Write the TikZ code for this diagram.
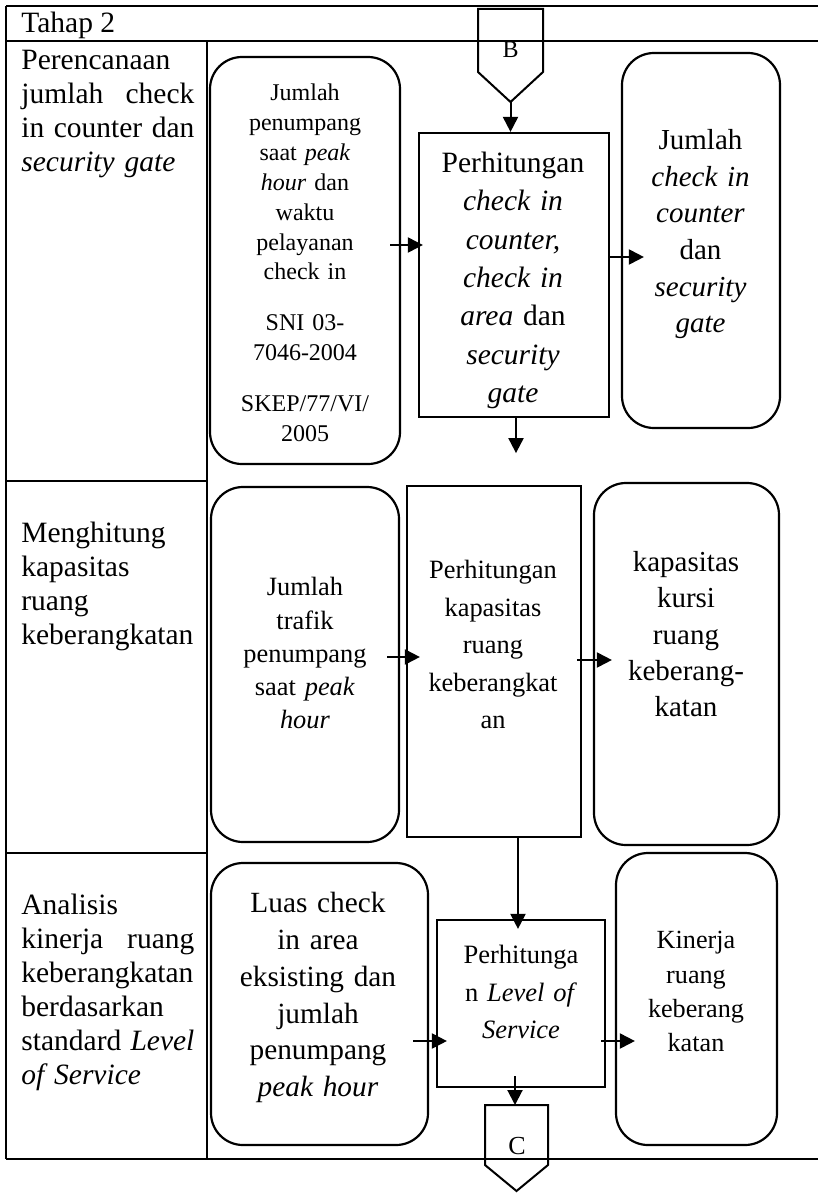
\documentclass[tikz,border=0pt]{standalone}
\usepackage{fontspec}
\setmainfont{Liberation Serif}
\usetikzlibrary{calc,fit,arrows.meta}
\newcommand\fsz[2]{\fontsize{#1}{#2}\selectfont}
\newcommand\jline[1]{\makebox[86.5pt][s]{#1}}
\begin{document}
\begin{tikzpicture}[x=0.5pt,y=-0.5pt,
  tline/.style={line width=1pt},
  rbox/.style={draw, line width=1.1pt, rounded corners=16pt, inner sep=0pt},
  sbox/.style={draw, line width=1.1pt, inner sep=0pt},
  arr/.style={line width=1pt, -{Triangle[length=7.5pt,width=7.5pt]}},
  txt/.style={inner sep=0pt, align=center, text width=85pt, anchor=base},
  ltxt/.style={inner sep=0pt, align=left, text width=86.5pt, anchor=base west, font=\fsz{14.75pt}{17pt}},
]
\useasboundingbox (0,0) rectangle (818,1193);

% table
\draw[tline] (6,6) -- (818,6);
\draw[tline] (6,41) -- (818,41);
\draw[tline] (6,1159) -- (818,1159);
\draw[tline] (6,6) -- (6,1159);
\draw[tline] (207,41) -- (207,1159);
\draw[tline] (6,481) -- (207,481);
\draw[tline] (6,853) -- (207,853);

% left column texts
\node[inner sep=0pt, anchor=base west, font=\fsz{14.75pt}{17pt}] (tahap) at (21,32.7) {Tahap 2};
\node[ltxt] (lc1) at (21,69.7) {Perencanaan\\ \jline{jumlah\hfill check}\\ \jline{in\hfill counter\hfill dan}\\ \textit{security gate}};
\node[ltxt] (lc2) at (21,542.7) {Menghitung\\ kapasitas\\ ruang\\ keberangkatan};
\node[ltxt] (lc3) at (21,914.7) {Analisis\\ \jline{kinerja\hfill ruang}\\ keberangkatan\\ berdasarkan\\ \jline{standard\hfill\textit{Level}}\\ \textit{of Service}};

% boxes
\node[rbox, fit={(210,57)(400,464)}] (b1) {};
\node[sbox, fit={(419,133)(609,417)}] (c1) {};
\node[rbox, fit={(622,53)(780,428)}] (r1) {};
\node[rbox, fit={(211,487)(399,842)}] (b2) {};
\node[sbox, fit={(407,486)(581,837)}] (c2) {};
\node[rbox, fit={(594,483)(779,845)}] (r2) {};
\node[rbox, fit={(211,863)(428,1145)}] (b3) {};
\node[sbox, fit={(437,920)(605,1087)}] (c3) {};
\node[rbox, fit={(616,853)(777,1145)}] (r3) {};

% box texts
\node[txt, font=\fsz{12pt}{14.9pt}] (t1) at (305,101) {Jumlah\\ penumpang\\ saat \textit{peak}\\ \textit{hour} dan\\ waktu\\ pelayanan\\ check in\\[10.5pt] SNI 03-\\ 7046-2004\\[10.5pt] SKEP/77/VI/\\ 2005};
\node[txt, font=\fsz{14.75pt}{19.15pt}] (tc1) at (513,172.7) {Perhitungan\\ \textit{check in}\\ \textit{counter,}\\ \textit{check in}\\ \textit{area} dan\\ \textit{security}\\ \textit{gate}};
\node[txt, font=\fsz{14.5pt}{18.3pt}] (tr1) at (700.5,149.6) {Jumlah\\ \textit{check in}\\ \textit{counter}\\ dan\\ \textit{security}\\ \textit{gate}};
\node[txt, font=\fsz{13.2pt}{16.65pt}] (t2) at (305,595.7) {Jumlah\\ trafik\\ penumpang\\ saat \textit{peak}\\ \textit{hour}};
\node[txt, font=\fsz{13.2pt}{18.75pt}] (tc2) at (493,578.7) {Perhitungan\\ kapasitas\\ ruang\\ keberangkat\\ an};
\node[txt, font=\fsz{14.5pt}{18.15pt}] (tr2) at (686,571.6) {kapasitas\\ kursi\\ ruang\\ keberang-\\ katan};
\node[txt, font=\fsz{14.65pt}{18.4pt}] (t3) at (318,912.7) {Luas check\\ in area\\ eksisting dan\\ jumlah\\ penumpang\\ \textit{peak hour}};
\node[txt, font=\fsz{13.25pt}{18.75pt}] (tc3) at (521,963.7) {Perhitunga\\ n \textit{Level of}\\ \textit{Service}};
\node[txt, font=\fsz{13.1pt}{17.2pt}] (tr3) at (696,948.6) {Kinerja\\ ruang\\ keberang\\ katan};

% off-page connectors
\draw[tline] (478,9) -- (543,9) -- (543,72) -- (510.5,102) -- (478,72) -- cycle;
\coordinate (Btip) at (510.5,102);
\node[inner sep=0pt, anchor=base, font=\fsz{12pt}{14pt}] (Blab) at (510.5,58) {B};
\draw[tline] (485,1105) -- (548,1105) -- (548,1165) -- (516.5,1191) -- (485,1165) -- cycle;
\coordinate (Ctop) at (515,1105);
\node[inner sep=0pt, anchor=base, font=\fsz{13pt}{15pt}] (Clab) at (517,1154) {C};

% arrows
\draw[arr] (Btip) -- (Btip |- c1.north);
\draw[arr] ($(b1.east)+(-11,-15.5)$) -- ($(c1.west)+(5,-30)$);
\draw[arr] ($(c1.east)+(0,-18)$) -- ($(r1.west)+(23,16.5)$);
\coordinate (d1) at ($(c1.south)+(2,35)$);
\draw[arr] ($(c1.south)+(2,0)$) -- (d1);
\draw[arr] ($(b2.east)+(-13,-7.5)$) -- ($(c2.west)+(14,-4.5)$);
\draw[arr] ($(c2.east)+(-5,-1.5)$) -- ($(r2.west)+(19,-4)$);
\draw[arr] ($(c2.south)+(24,0)$) -- ($(c3.north)+(-3,10)$);
\draw[arr] ($(b3.east)+(-16,37)$) -- ($(c3.west)+(11,37.5)$);
\draw[arr] ($(c3.east)+(-5,37.5)$) -- ($(r3.west)+(20,42)$);
\draw[arr] ($(c3.south)+(-6,-12)$) -- (Ctop);
\end{tikzpicture}
\end{document}
